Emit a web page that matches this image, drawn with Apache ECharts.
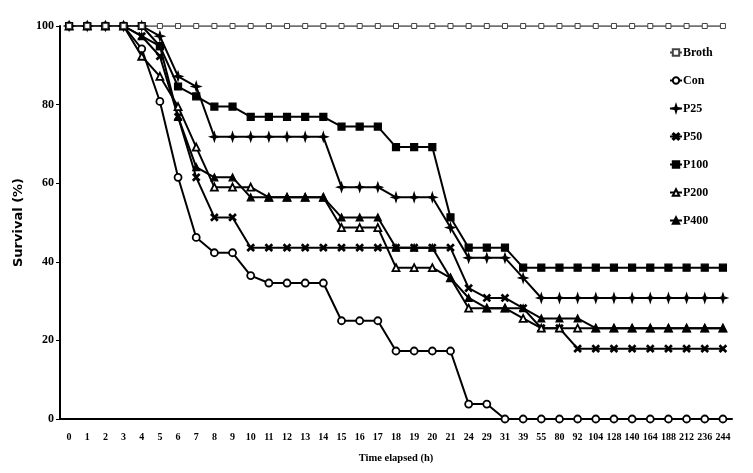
<!DOCTYPE html>
<html>
<head>
<meta charset="utf-8">
<script src="https://cdn.jsdelivr.net/npm/echarts@6/dist/echarts.min.js"></script>
<style>
html,body{margin:0;padding:0;background:#fff;}
#c{width:753px;height:473px;}
</style>
</head>
<body>
<div id="c"></div>
<script>
const categories = ['0','1','2','3','4','5','6','7','8','9','10','11','12','13','14','15','16','17','18','19','20','21','24','29','31','39','55','80','92','104','128','140','164','188','212','236','244'];
const yTicks = [0, 20, 40, 60, 80, 100];

const broth = [100,100,100,100,100,100,100,100,100,100,100,100,100,100,100,100,100,100,100,100,100,100,100,100,100,100,100,100,100,100,100,100,100,100,100,100,100];
const con   = [100,100,100,100,94.2,80.8,61.5,46.2,42.3,42.3,36.5,34.6,34.6,34.6,34.6,25.0,25.0,25.0,17.3,17.3,17.3,17.3,3.8,3.8,0,0,0,0,0,0,0,0,0,0,0,0,0];
const p25   = [100,100,100,100,100,97.4,87.2,84.6,71.8,71.8,71.8,71.8,71.8,71.8,71.8,59.0,59.0,59.0,56.4,56.4,56.4,48.7,41.0,41.0,41.0,35.9,30.8,30.8,30.8,30.8,30.8,30.8,30.8,30.8,30.8,30.8,30.8];
const p50   = [100,100,100,100,97.4,92.3,76.9,61.5,51.3,51.3,43.6,43.6,43.6,43.6,43.6,43.6,43.6,43.6,43.6,43.6,43.6,43.6,33.3,30.8,30.8,28.2,23.1,23.1,17.9,17.9,17.9,17.9,17.9,17.9,17.9,17.9,17.9];
const p100  = [100,100,100,100,100,94.9,84.6,82.1,79.5,79.5,76.9,76.9,76.9,76.9,76.9,74.4,74.4,74.4,69.2,69.2,69.2,51.3,43.6,43.6,43.6,38.5,38.5,38.5,38.5,38.5,38.5,38.5,38.5,38.5,38.5,38.5,38.5];
const p200  = [100,100,100,100,92.3,87.2,79.5,69.2,59.0,59.0,59.0,56.4,56.4,56.4,56.4,48.7,48.7,48.7,38.5,38.5,38.5,35.9,28.2,28.2,28.2,25.6,23.1,23.1,23.1,23.1,23.1,23.1,23.1,23.1,23.1,23.1,23.1];
const p400  = [100,100,100,100,97.4,94.9,76.9,64.1,61.5,61.5,56.4,56.4,56.4,56.4,56.4,51.3,51.3,51.3,43.6,43.6,43.6,35.9,30.8,28.2,28.2,28.2,25.6,25.6,25.6,23.1,23.1,23.1,23.1,23.1,23.1,23.1,23.1];

const FONT = 'Liberation Serif';
const xMark = 'path://M0,1.5 L1.5,0 L5,3.5 L8.5,0 L10,1.5 L6.5,5 L10,8.5 L8.5,10 L5,6.5 L1.5,10 L0,8.5 L3.5,5 Z';
const plusDiamond = 'path://M5,0 L6.2,3.8 L10,5 L6.2,6.2 L5,10 L3.8,6.2 L0,5 L3.8,3.8 Z';

function mk(name, data, symbol, size, fill, opts) {
  return Object.assign({
    name: name,
    type: 'line',
    data: data,
    symbol: symbol,
    symbolSize: size,
    showSymbol: true,
    animation: false,
    lineStyle: { color: '#000', width: 2 },
    itemStyle: { color: fill, borderColor: '#000', borderWidth: 1.2 },
    emphasis: { disabled: true }
  }, opts || {});
}

const chart = echarts.init(document.getElementById('c'));
chart.setOption({
  backgroundColor: '#fff',
  animation: false,
  grid: { left: 60, right: 21, top: 26, bottom: 54 },
  legend: {
    orient: 'vertical',
    left: 664,
    top: 41,
    itemWidth: 12,
    itemHeight: 8,
    itemGap: 15,
    textStyle: { fontFamily: FONT, fontWeight: 'bold', fontSize: 12, color: '#000', padding: [0,0,0,-4], lineHeight: 13 },
    data: ['Broth','Con','P25','P50','P100','P200','P400']
  },
  xAxis: {
    type: 'category',
    data: categories,
    boundaryGap: true,
    name: 'Time elapsed (h)',
    nameLocation: 'middle',
    nameGap: 34,
    nameTextStyle: { fontFamily: FONT, fontWeight: 'bold', fontSize: 10.5, color: '#000' },
    axisLine: { lineStyle: { color: '#000', width: 2 } },
    axisTick: { alignWithLabel: true, inside: true, length: 3, lineStyle: { color: '#000', width: 1 } },
    axisLabel: { fontFamily: FONT, fontWeight: 'bold', fontSize: 10, color: '#000', margin: 13, interval: 0 },
    splitLine: { show: false }
  },
  yAxis: {
    type: 'value',
    min: yTicks[0],
    max: yTicks[yTicks.length - 1],
    interval: yTicks[1] - yTicks[0],
    name: 'Survival (%)',
    nameLocation: 'middle',
    nameGap: 33,
    nameRotate: 90,
    nameTextStyle: { fontFamily: 'DejaVu Sans', fontWeight: 'bold', fontSize: 13, color: '#000' },
    axisLine: { show: true, lineStyle: { color: '#000', width: 2 } },
    axisTick: { show: true, length: 4, lineStyle: { color: '#000', width: 1 } },
    axisLabel: { fontFamily: FONT, fontWeight: 'bold', fontSize: 12, color: '#000', margin: 6 },
    splitLine: { show: false }
  },
  series: [
    mk('Con', con, 'circle', 7, '#fff', { itemStyle: { color: '#fff', borderColor: '#000', borderWidth: 1.8 } }),
    mk('P25', p25, plusDiamond, 9, '#000'),
    mk('P50', p50, xMark, 7, '#000'),
    mk('P200', p200, 'triangle', 7, '#fff', { itemStyle: { color: '#fff', borderColor: '#000', borderWidth: 1.8 } }),
    mk('P400', p400, 'triangle', 7, '#000'),
    mk('P100', p100, 'rect', 7, '#000'),
    mk('Broth', broth, 'rect', 5, '#fff', { lineStyle: { color: '#444', width: 1.5 }, itemStyle: { color: '#fff', borderColor: '#444', borderWidth: 1 } })
  ]
});
</script>
</body>
</html>
